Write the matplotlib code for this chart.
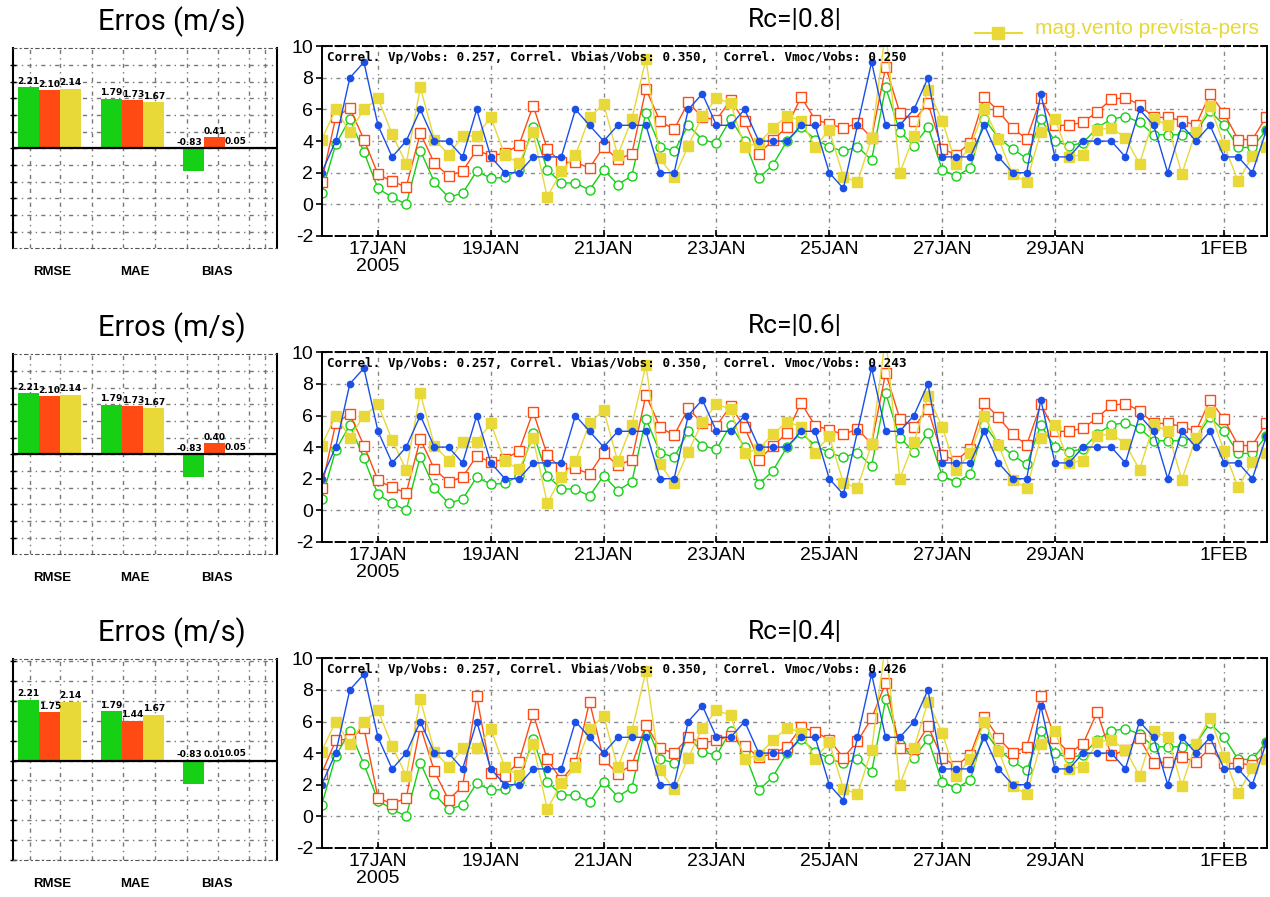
import numpy as np
import pandas as pd
import matplotlib
matplotlib.use("Agg")
import matplotlib.pyplot as plt
from matplotlib import font_manager
from matplotlib.lines import Line2D


# 6-hourly wind speed (m/s), 16 JAN 2005 00Z .. 1 FEB 2005 18Z
TIMES = pd.date_range("2005-01-16 00:00", periods=68, freq="6h")

V_OBS = [2.0, 4.0, 8.0, 9.0, 5.0, 3.0, 4.0, 6.0, 4.0, 4.0,
         3.0, 6.0, 3.0, 2.0, 2.0, 3.0, 3.0, 3.0, 6.0, 5.0,
         4.0, 5.0, 5.0, 5.0, 2.0, 2.0, 6.0, 7.0, 5.0, 5.0,
         6.0, 4.0, 4.0, 4.0, 5.0, 5.0, 2.0, 1.0, 5.0, 9.0,
         5.0, 5.0, 6.0, 8.0, 3.0, 3.0, 3.0, 5.0, 3.0, 2.0,
         2.0, 7.0, 3.0, 3.0, 4.0, 4.0, 4.0, 3.0, 6.0, 5.0,
         2.0, 5.0, 4.0, 5.0, 3.0, 3.0, 2.0, 4.7]

V_PREV = [0.7, 3.8, 5.4, 3.3, 1.0, 0.45, 0.0, 3.4, 1.4, 0.45,
          0.7, 2.1, 1.65, 1.7, 2.2, 4.9, 2.2, 1.35, 1.35, 0.9,
          2.2, 1.25, 1.8, 5.8, 3.65, 3.35, 5.0, 4.1, 3.85, 5.4,
          4.0, 1.65, 2.5, 4.0, 4.9, 4.1, 3.65, 3.35, 3.65, 2.8,
          7.4, 4.6, 3.7, 4.9, 2.2, 1.77, 2.3, 5.4, 4.2, 3.5,
          2.9, 5.4, 4.0, 3.7, 3.9, 4.85, 5.4, 5.55, 5.2, 4.4,
          4.4, 4.4, 4.6, 5.9, 5.0, 3.6, 3.6, 4.7]

V_BIAS_08 = [1.4, 5.5, 6.1, 4.1, 1.9, 1.45, 1.1, 4.5, 2.6, 1.8,
             2.1, 3.45, 3.05, 3.25, 3.75, 6.25, 3.5, 2.65, 2.65, 2.3,
             3.65, 2.85, 3.2, 7.3, 5.25, 4.75, 6.45, 5.5, 5.35, 6.6,
             5.25, 3.2, 4.05, 4.9, 6.8, 5.35, 5.1, 4.8, 5.15, 4.2,
             8.7, 5.8, 5.3, 6.4, 3.5, 3.15, 3.9, 6.77, 5.9, 4.8,
             4.15, 6.7, 5.0, 5.0, 5.2, 5.85, 6.65, 6.75, 6.3, 5.5,
             5.5, 5.3, 5.0, 7.0, 5.75, 4.1, 4.1, 5.55]

V_BIAS_06 = list(V_BIAS_08)

V_BIAS_04 = [2.7, 4.8, 4.9, 5.6, 1.15, 0.8, 1.15, 5.7, 2.85, 1.05,
             1.9, 7.6, 2.75, 2.55, 3.45, 6.5, 3.6, 2.3, 3.35, 7.25,
             3.6, 2.7, 3.25, 5.8, 4.3, 4.0, 5.0, 4.65, 4.8, 5.1,
             4.45, 3.75, 3.95, 4.4, 5.65, 5.35, 4.85, 3.7, 4.75, 6.2,
             8.45, 4.3, 4.25, 5.7, 3.7, 3.2, 3.9, 6.3, 4.95, 4.0,
             4.4, 7.6, 4.95, 4.0, 4.6, 6.6, 3.85, 4.2, 4.95, 3.35,
             3.45, 3.75, 3.45, 4.3, 3.35, 3.35, 3.25, 4.1]

V_PERS = [4.1, 6.0, 4.6, 6.0, 6.7, 4.45, 2.55, 7.4, 4.1, 3.15,
          4.3, 4.35, 5.5, 3.1, 2.6, 4.55, 0.45, 2.1, 3.1, 5.5,
          6.35, 3.1, 5.4, 9.2, 2.9, 1.7, 3.7, 5.6, 6.7, 6.4,
          3.6, 3.9, 4.8, 5.6, 5.3, 3.65, 4.7, 1.75, 1.4, 4.2,
          11.0, 2.0, 4.3, 7.25, 5.3, 2.55, 3.65, 6.0, 4.15, 1.9,
          1.4, 4.6, 5.4, 3.0, 3.15, 4.7, 4.85, 4.2, 2.57, 5.4,
          5.0, 1.94, 4.6, 6.25, 3.75, 1.45, 3.07, 3.65]

RC_LABELS = ["Rc=|0.8|", "Rc=|0.6|", "Rc=|0.4|"]
CORREL_VMOC = ["0.250", "0.243", "0.426"]
CORREL_VP = "0.257"
CORREL_VBIAS = "0.350"

ERR_NAMES = ["RMSE", "MAE", "BIAS"]
ERR_PREV = [2.21, 1.79, -0.83]
ERR_BIAS = [[2.10, 1.73, 0.41], [2.10, 1.73, 0.40], [1.75, 1.44, 0.01]]
ERR_PERS = [2.14, 1.67, 0.05]

DATE_TICKS = pd.to_datetime(["2005-01-17", "2005-01-19", "2005-01-21", "2005-01-23",
                             "2005-01-25", "2005-01-27", "2005-01-29", "2005-02-01"])
DATE_LABELS = ["17JAN\n2005", "19JAN", "21JAN", "23JAN", "25JAN", "27JAN", "29JAN", "1FEB"]

GREEN = "#16d016"
BLUE = "#1a4fe8"
RED = "#ff4a14"
YELLOW = "#e8d838"

W, H = 1270, 897


def pick_font(names):
    for name in names:
        try:
            font_manager.findfont(font_manager.FontProperties(family=name),
                                  fallback_to_default=False)
            return name
        except ValueError:
            pass
    return "DejaVu Sans"


NARROW = pick_font(["Liberation Sans Narrow", "Liberation Sans"])
THIN = pick_font(["Roboto", "Liberation Sans"])
plt.rcParams["axes.unicode_minus"] = False


def px_box(left, top, right, bottom):
    return [left / W, 1 - bottom / H, (right - left) / W, (bottom - top) / H]


def draw_series(ax, vbias, vmoc_txt):
    ax.plot(TIMES, V_PREV, color=GREEN, lw=1.0, marker="o", ms=6.5,
            mfc="white", mec=GREEN, mew=1.0, zorder=2)
    ax.plot(TIMES, vbias, color=RED, lw=1.0, marker="s", ms=7,
            mfc="white", mec=RED, mew=1.0, zorder=2.1)
    ax.plot(TIMES, V_PERS, color=YELLOW, lw=1.0, marker="s", ms=6.5,
            mfc=YELLOW, mec=YELLOW, zorder=2.2)
    ax.plot(TIMES, V_OBS, color=BLUE, lw=1.0, marker="o", ms=4.5,
            mfc=BLUE, mec=BLUE, zorder=2.3)

    ax.set_ylim(-2, 10)
    ax.set_xlim(TIMES[0], TIMES[0] + pd.Timedelta(days=16.76))
    ax.set_yticks([-2, 0, 2, 4, 6, 8, 10])
    ax.set_xticks(DATE_TICKS)
    ax.set_xticklabels(DATE_LABELS, linespacing=1.0)
    for lab in ax.get_xticklabels() + ax.get_yticklabels():
        lab.set_family(NARROW)
        lab.set_fontsize(14)
    ax.tick_params(axis="x", direction="in", length=4, width=1.2, pad=4)
    ax.tick_params(axis="y", direction="out", length=4, width=1.2, pad=2)
    ax.grid(True, color="#888888", lw=1.0, linestyle=(0, (3, 3, 1, 3)))
    for side in ("top", "bottom"):
        ax.spines[side].set_linestyle((0, (5, 2)))
        ax.spines[side].set_linewidth(1.4)
    for side in ("left", "right"):
        ax.spines[side].set_linewidth(1.4)

    txt = ("Correl. Vp/Vobs: " + CORREL_VP + ", Correl. Vbias/Vobs: " + CORREL_VBIAS
           + ",  Correl. Vmoc/Vobs: " + vmoc_txt)
    ax.text(0.006, 0.94, txt, transform=ax.transAxes, family="DejaVu Sans Mono",
            fontsize=9.1, fontweight="bold", va="center", ha="left", zorder=5)


def draw_errors(ax, bias_vals, ylim, step):
    groups = np.array([37.0, 120.0, 202.0])
    width = 21.0
    sets = [(ERR_PREV, GREEN, -width), (bias_vals, RED, 0.0), (ERR_PERS, YELLOW, width)]
    for vals, color, off in sets:
        xs = groups + off
        ax.bar(xs, vals, width=width, color=color, zorder=2)
        for x, v in zip(xs, vals):
            if v > 0:
                ax.text(x, v + 0.05, f"{v:.2f}", ha="center", va="bottom",
                        fontsize=6.5, fontweight="bold", zorder=4)
            else:
                ax.text(x - 4, 0.05, f"{v:.2f}", ha="center", va="bottom",
                        fontsize=6.5, fontweight="bold", zorder=4)
    ax.axhline(0, color="black", lw=1.6, zorder=3)
    ax.set_xlim(0, 264)
    ax.set_ylim(*ylim)
    yt = np.arange(-5, 6) * step
    ax.set_yticks(yt)
    ax.set_yticklabels([])
    ax.set_xticks([17, 47, 79, 110, 142, 174, 205, 236, 252])
    ax.set_xticklabels([])
    ax.tick_params(axis="y", direction="inout", length=5, width=1.0)
    ax.tick_params(axis="x", length=0)
    ax.grid(True, color="#777777", lw=1.0, linestyle=(0, (3, 3, 1, 3)))
    for side in ("top", "bottom"):
        ax.spines[side].set_linestyle((0, (3, 3, 1, 3)))
        ax.spines[side].set_color("#555555")
    for side in ("left", "right"):
        ax.spines[side].set_linewidth(1.5)
    for g, name in zip(groups, ERR_NAMES):
        ax.text(g + 2, -0.12, name, transform=ax.get_xaxis_transform(),
                ha="center", va="center", fontsize=9.5, fontweight="bold",
                family=NARROW)


fig = plt.figure(figsize=(W / 100, H / 100), dpi=100)

ts_tops = [46.3, 352.3, 658.3]
bar_boxes = [(48.3, 248.3), (354.3, 554.3), (659.3, 860.0)]
bar_limits = [((-3.6, 3.6), 0.6), ((-3.6, 3.6), 0.6), ((-3.52, 3.67), 0.72)]
bias_series = [V_BIAS_08, V_BIAS_06, V_BIAS_04]

for k in range(3):
    top = ts_tops[k]
    ax = fig.add_axes(px_box(321.6, top, 1267, top + 189.6))
    draw_series(ax, bias_series[k], CORREL_VMOC[k])
    fig.text(795 / W, 1 - (top - 26) / H, RC_LABELS[k], ha="center", va="center",
             fontsize=19, family=THIN)

    btop, bbot = bar_boxes[k]
    bx = fig.add_axes(px_box(12.7, btop, 276.7, bbot))
    draw_errors(bx, ERR_BIAS[k], *bar_limits[k])
    fig.text(172 / W, 1 - (btop - 27) / H, "Erros (m/s)", ha="center", va="center",
             fontsize=21, family=THIN)

# legend entry (top right)
fig.add_artist(Line2D([975 / W, 1022 / W], [1 - 33 / H, 1 - 33 / H], color=YELLOW,
                      lw=1.5, marker=None))
fig.add_artist(Line2D([998 / W], [1 - 33 / H], color=YELLOW, marker="s", ms=8,
                      mfc=YELLOW, mec=YELLOW, lw=0))
fig.text(1035 / W, 1 - 29 / H, "mag.vento prevista-pers", color=YELLOW,
         ha="left", va="center", fontsize=15, family=NARROW)

fig.savefig("out.png", dpi=100)
